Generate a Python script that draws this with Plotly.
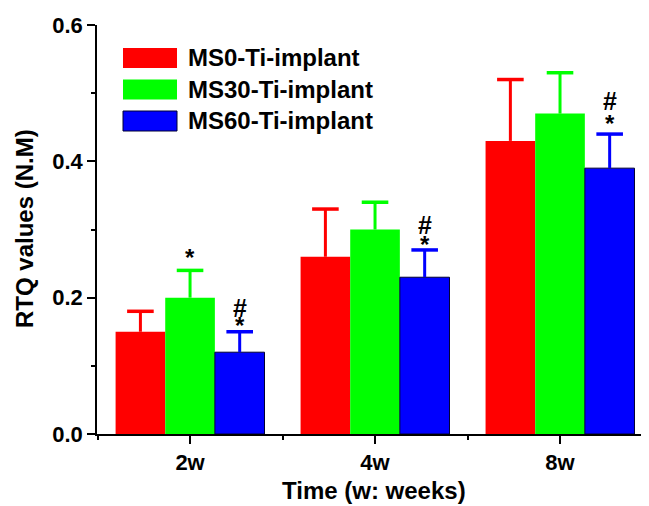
import plotly.graph_objects as go

# ---- data ----
categories = ["2w", "4w", "8w"]
series_names = ["MS0-Ti-implant", "MS30-Ti-implant", "MS60-Ti-implant"]
ms0_values = [0.15, 0.26, 0.43]
ms0_errors = [0.03, 0.07, 0.09]
ms30_values = [0.20, 0.30, 0.47]
ms30_errors = [0.04, 0.04, 0.06]
ms60_values = [0.12, 0.23, 0.39]
ms60_errors = [0.03, 0.04, 0.05]
# significance marks per series (per category)
ms30_marks = [["*"], [], []]
ms60_marks = [["*", "#"], ["*", "#"], ["*", "#"]]
y_ticks = [0.0, 0.2, 0.4, 0.6]

colors = ["#FF0000", "#00FF00", "#0000FF"]
outline = ["#FF0000", "#00FF00", "#000033"]

# page body has an 8px margin; plot area wanted at screen x 97..649, y 25..434
OFF = 8
W, H = 649 - OFF, 506 - OFF
SX0, SX1, SY0, SY1 = 97, 649, 25, 434
L, T = SX0 - OFF, SY0 - OFF
R = W - (SX1 - OFF)
B = H - (SY1 - OFF)
PW, PH = SX1 - SX0, SY1 - SY0


def px(sx):
    return (sx - SX0) / PW


def py(sy):
    return (SY1 - sy) / PH


FONT = "Liberation Sans, Arial, sans-serif"
xpos = list(range(len(categories)))
bargap = 0.195
barw = (1 - bargap) / 3

fig = go.Figure()
vals = [ms0_values, ms30_values, ms60_values]
errs = [ms0_errors, ms30_errors, ms60_errors]
for i in range(3):
    fig.add_trace(go.Bar(
        x=xpos, y=vals[i], name=series_names[i],
        marker=dict(color=colors[i], line=dict(color=outline[i], width=1 if i == 2 else 0)),
        error_y=dict(type="data", array=errs[i], arrayminus=[0] * 3, symmetric=False,
                     color=colors[i], thickness=3, width=0),
        showlegend=False,
    ))
# error-bar caps (upper end only)
for i in range(3):
    fig.add_trace(go.Scatter(
        x=[j + (i - 1) * barw for j in xpos],
        y=[v + e for v, e in zip(vals[i], errs[i])],
        mode="markers", showlegend=False, hoverinfo="skip",
        marker=dict(symbol="line-ew", size=19, color=colors[i],
                    line=dict(color=colors[i], width=3.5)),
    ))

annotations = []
# pixel gap (glyph centre above cap) – style only
star_gap = {1: [16, 0, 0], 2: [9, 8, 14]}
hash_gap = {2: [25, 26, 34]}


def add_marks(series_idx, marks, values, errors):
    for j, ms in enumerate(marks):
        for m in ms:
            if m == "*":
                gap = star_gap[series_idx][j]
                size = 24
                shift = gap - 3
            else:
                gap = hash_gap[series_idx][j]
                size = 25
                shift = gap - 1
            annotations.append(dict(
                x=j + (series_idx - 1) * barw, y=values[j] + errors[j], xref="x", yref="y",
                text="<b>%s</b>" % m, showarrow=False, yanchor="middle", xanchor="center",
                yshift=shift,
                font=dict(family=FONT, size=size, color="black")))


add_marks(1, ms30_marks, ms30_values, ms30_errors)
add_marks(2, ms60_marks, ms60_values, ms60_errors)

# manual legend
shapes = []
sw_x0, sw_x1 = 123, 177
row_top = 48
pitch = 31.5
for i in range(3):
    top = row_top + i * pitch
    bot = top + 20
    shapes.append(dict(type="rect", xref="paper", yref="paper",
                       x0=px(sw_x0), x1=px(sw_x1), y0=py(bot), y1=py(top),
                       fillcolor=colors[i],
                       line=dict(color=outline[i], width=1 if i == 2 else 0)))
    annotations.append(dict(x=px(186), y=py(top + 10),
                            xref="paper", yref="paper", xanchor="left", yanchor="middle",
                            text="<b>%s</b>" % series_names[i], showarrow=False,
                            font=dict(family=FONT, size=24, color="black")))

# axis titles
annotations.append(dict(x=px(24), y=py(229), xref="paper", yref="paper",
                        text="<b>RTQ values (N.M)</b>", textangle=-90, showarrow=False,
                        xanchor="center", yanchor="middle",
                        font=dict(family=FONT, size=24, color="black")))
annotations.append(dict(x=px(374), y=py(490), xref="paper", yref="paper",
                        text="<b>Time (w: weeks)</b>", showarrow=False,
                        xanchor="center", yanchor="middle",
                        font=dict(family=FONT, size=24, color="black")))

fig.update_layout(
    width=W, height=H,
    margin=dict(l=L, r=R, t=T, b=B),
    plot_bgcolor="white", paper_bgcolor="white",
    barmode="group", bargap=bargap, bargroupgap=0,
    shapes=shapes, annotations=annotations,
    showlegend=False,
)
fig.update_xaxes(
    range=[-0.503, 2.481], tickmode="array", tickvals=xpos, ticktext=categories,
    showline=True, linecolor="black", linewidth=1.5, ticks="outside", ticklen=8,
    tickwidth=1.5, tickcolor="black", showgrid=False, zeroline=False,
    tickfont=dict(family=FONT, size=22, color="black", weight="bold"),
    minor=dict(tickmode="array", tickvals=[-0.5, 0.5, 1.5], ticks="outside", ticklen=4,
               tickwidth=1.5, tickcolor="black", showgrid=False),
)
fig.update_yaxes(
    range=[0, 0.6], tickmode="array", tickvals=y_ticks, tickformat=".1f",
    showline=True, linecolor="black", linewidth=1.5, ticks="outside", ticklen=8,
    tickwidth=1.5, tickcolor="black", showgrid=False, zeroline=False,
    tickfont=dict(family=FONT, size=22, color="black", weight="bold"),
    minor=dict(dtick=0.1, ticks="outside", ticklen=4, tickwidth=1.5, tickcolor="black",
               showgrid=False),
)

fig.write_html("out.html")
